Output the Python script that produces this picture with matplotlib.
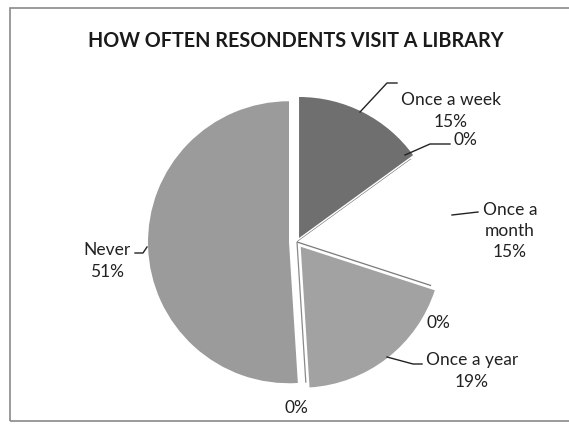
import matplotlib
matplotlib.use("Agg")
import matplotlib.pyplot as plt
from matplotlib.patches import Rectangle

# ---- data ----
categories = ["Once a week", "", "Once a month", "", "Once a year", "", "Never"]
percents = [15, 0, 15, 0, 19, 0, 51]
title = "HOW OFTEN RESONDENTS VISIT A LIBRARY"

# ---- style ----
W, H = 569, 424
colors = ["#6f6f6f", "#ffffff", "#ffffff", "#ffffff", "#a2a2a2", "#ffffff", "#9b9b9b"]
edges = ["none", "#7a7a7a", "none", "#7a7a7a", "none", "#8a8a8a", "none"]
explode = [4.5, 0, 0, 0, 6, 0, 8]   # offsets in pixels
font = "Lato"
txt_color = "#222222"

fig = plt.figure(figsize=(W / 100, H / 100), dpi=100)
ax = fig.add_axes([0, 0, 1, 1])

cx, cy, R = 297, H - 242, 141
wedges, _ = ax.pie(percents, startangle=90, counterclock=False, explode=explode,
                   colors=colors, center=(cx, cy), radius=R)
for w, ec in zip(wedges, edges):
    if ec == "none":
        w.set_edgecolor("none")
    else:
        w.set_edgecolor(ec)
        w.set_linewidth(0.9)

ax.set_xlim(0, W)
ax.set_ylim(0, H)
ax.set_aspect("equal")
ax.axis("off")

def py(y):
    return H - y

# border
ax.add_patch(Rectangle((10, py(421)), 600, 413, fill=False, edgecolor="#8a8a8a",
                       linewidth=1.2, clip_on=False))

# title (fit to width)
t = ax.text(296, py(47), title, ha="center", va="baseline", fontsize=16,
            fontweight="bold", family=font, color="#1a1a1a")
fig.canvas.draw()
bb = t.get_window_extent()
t.set_fontsize(16 * 416 / bb.width)

# labels
def lab(i):
    name = categories[i]
    pct = f"{percents[i]}%"
    return f"{name}\n{pct}" if name else pct

label_pos = {
    0: (451, 111),
    1: (465, 140),
    2: (510, 231),
    3: (438, 323),
    4: (472, 371),
    5: (296, 408),
    6: (107, 261),
}
for i, (x, y) in label_pos.items():
    text = lab(i)
    if i == 2:
        text = "Once a\nmonth\n" + f"{percents[i]}%"
    ax.text(x, py(y), text, ha="center", va="center", fontsize=12.5, family=font,
            color=txt_color, linespacing=1.4)

# leader lines
leaders = [
    [(360, 112), (387, 83), (397, 83)],
    [(405, 155), (430, 144), (450, 144)],
    [(452, 215), (478, 212)],
    [(387, 357), (413, 364), (422, 364)],
    [(135, 253), (143, 253), (147, 247)],
]
for pts in leaders:
    xs = [p[0] for p in pts]
    ys = [py(p[1]) for p in pts]
    ax.plot(xs, ys, color="#222222", linewidth=1.0)

fig.savefig("out.png", dpi=100)
